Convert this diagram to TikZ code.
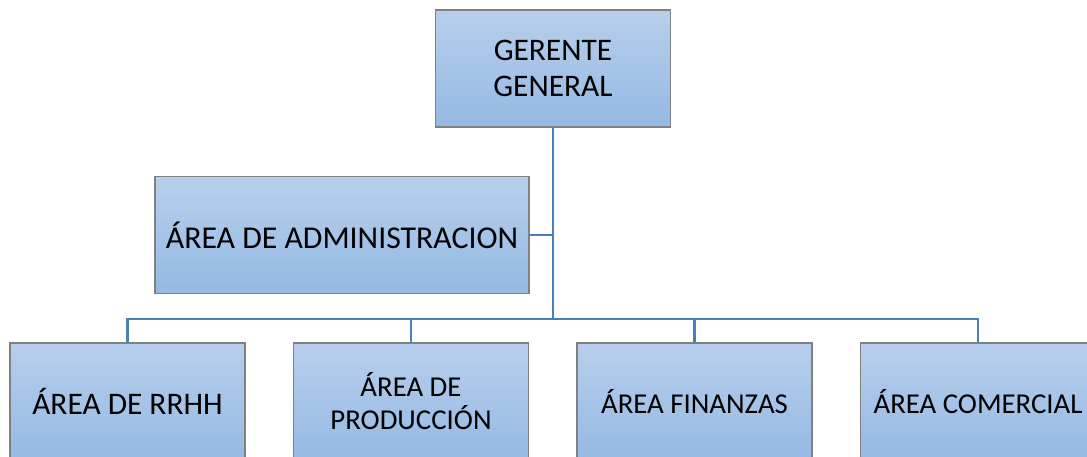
\documentclass[tikz,border=0pt]{standalone}
\usepackage{fontspec}
\setmainfont{Carlito}
\definecolor{boxtop}{RGB}{183,207,236}
\definecolor{boxbot}{RGB}{149,185,227}
\definecolor{boxedge}{RGB}{128,128,128}
\definecolor{linkblue}{RGB}{74,126,187}
\begin{document}
\begin{tikzpicture}[x=1pt,y=-1pt,
  orgbox/.style={draw=boxedge,line width=1.2pt,top color=boxtop,bottom color=boxbot,
    minimum width=235pt,minimum height=117pt,inner sep=0pt,align=center,
    font=\fontsize{31.4}{36}\selectfont,text=black},
  smalltext/.style={font=\fontsize{28.8}{33}\selectfont},
  link/.style={draw=linkblue,line width=2.4pt}]
\useasboundingbox (0,0) rectangle (1087,457);
\clip (0,0) rectangle (1087,457);
\node[orgbox] (gg) at (553,68.5) {GERENTE\\GENERAL};
\node[orgbox,minimum width=374pt,minimum height=117pt,font=\fontsize{31.8}{36}\selectfont] (adm) at (342,235) {ÁREA DE ADMINISTRACION};
\node[orgbox] (rrhh) at (127.5,401.5) {ÁREA DE RRHH};
\node[orgbox,smalltext] (prod) at (411,401.5) {ÁREA DE\\PRODUCCIÓN};
\node[orgbox,smalltext] (fin) at (694.5,401.5) {ÁREA FINANZAS};
\node[orgbox,smalltext] (com) at (978,401.5) {ÁREA COMERCIAL};
\coordinate (bar) at (553,319);
\draw[link] (gg.south) -- (bar);
\draw[link] (adm.east) -- (adm.east -| gg.south);
\draw[link] (bar) -| (rrhh.north);
\draw[link] (bar) -| (prod.north);
\draw[link] (bar) -| (fin.north);
\draw[link] (bar) -| (com.north);
\end{tikzpicture}
\end{document}
